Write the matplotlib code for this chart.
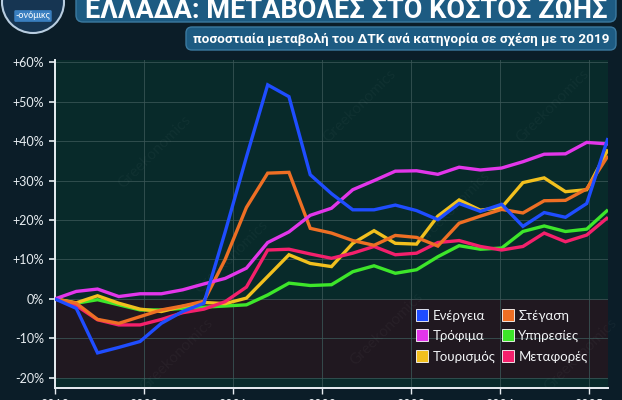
import matplotlib
matplotlib.use('Agg')
import matplotlib.pyplot as plt
from matplotlib.patches import FancyBboxPatch, Circle
from matplotlib.lines import Line2D

# ---------------- data ----------------
periods = list(range(27))
year_labels = ['2019', '2020', '2021', '2022', '2023', '2024', '2025']
year_pos = [0, 4.18, 8.37, 12.55, 16.74, 20.92, 25.1]

energy = [0, -2.4, -13.7, -12.3, -10.8, -6.2, -3.2, -1.1, 17.0, 36.0, 54.3, 51.3, 31.5,
          26.7, 22.6, 22.6, 23.8, 22.4, 20.1, 24.2, 22.2, 24.0, 18.4, 21.9, 20.7, 24.2, 40.8]
housing = [0, -1.1, -5.2, -6.2, -4.5, -2.8, -1.8, -0.6, 10.0, 23.2, 31.9, 32.1, 17.9,
           16.7, 14.8, 13.6, 16.1, 15.6, 13.4, 19.2, 21.0, 22.7, 21.8, 24.9, 25.0, 27.9, 36.3]
food = [0, 1.9, 2.5, 0.6, 1.3, 1.3, 2.3, 3.8, 5.2, 7.8, 14.3, 17.0, 21.2,
        23.0, 27.7, 30.0, 32.4, 32.5, 31.6, 33.4, 32.7, 33.2, 34.8, 36.7, 36.8, 39.7, 39.3]
services = [0, -1.1, -0.2, -1.5, -2.8, -2.8, -2.4, -2.1, -1.8, -1.5, 1.0, 4.0, 3.4,
            3.6, 6.9, 8.4, 6.5, 7.4, 10.7, 13.5, 12.6, 12.9, 17.1, 18.5, 17.1, 17.7, 22.6]
tourism = [0, -1.0, 0.8, -1.1, -2.6, -3.2, -1.9, -0.9, -1.2, 0.2, 5.7, 11.2, 9.0,
           8.2, 14.1, 17.3, 14.1, 13.9, 21.0, 25.1, 22.5, 23.2, 29.5, 30.7, 27.2, 27.7, 37.9]
transport = [0, -1.7, -5.3, -6.6, -6.6, -5.2, -3.5, -2.6, -0.7, 3.0, 12.4, 12.6, 11.4,
             10.3, 11.6, 13.3, 11.2, 11.6, 14.3, 14.8, 13.3, 12.4, 13.3, 16.7, 14.5, 16.2, 20.7]

names = ['Ενέργεια', 'Στέγαση', 'Τρόφιμα', 'Υπηρεσίες', 'Τουρισμός', 'Μεταφορές']
colors = ['#1f4dff', '#ee6f24', '#e236ea', '#3de62a', '#f2c01e', '#f4206c']
series = [energy, housing, food, services, tourism, transport]

y_ticks = [-20, -10, 0, 10, 20, 30, 40, 50, 60]

# ---------------- style ----------------
BG = '#0b1d28'
TEAL = '#082a2a'
MAROON = '#201820'
BANNER = '#1d5b82'
FONT = ['Lato', 'DejaVu Sans']
NARROW = ['Roboto', 'DejaVu Sans']

fig = plt.figure(figsize=(6.22, 4.0), dpi=100, facecolor=BG)

# overlay in pixel coordinates for header decorations
ov = fig.add_axes([0, 0, 1, 1], zorder=0)
ov.set_xlim(0, 622)
ov.set_ylim(400, 0)
ov.axis('off')
ov.patch.set_alpha(0)

ov.add_patch(FancyBboxPatch((76, -12), 540, 34, boxstyle='round,pad=0,rounding_size=7',
                            fc=BANNER, ec='#3b7aa0', lw=1))
ov.text(346, 18, 'ΕΛΛΑΔΑ: ΜΕΤΑΒΟΛΕΣ ΣΤΟ ΚΟΣΤΟΣ ΖΩΗΣ', color='white', fontsize=19.5,
        fontweight='bold', family=NARROW, ha='center', va='baseline')
ov.add_patch(FancyBboxPatch((186, 27), 430, 23, boxstyle='round,pad=0,rounding_size=6',
                            fc=BANNER, ec='#3b7aa0', lw=1))
ov.text(401, 39, 'ποσοστιαία μεταβολή του ΔΤΚ ανά κατηγορία σε σχέση με το 2019',
        color='white', fontsize=9.7, fontweight='bold', family=NARROW,
        ha='center', va='center')
ov.add_patch(Circle((33, 2), 31, fc='#163552', ec='#b8cde0', lw=1.5))
ov.text(33, 16, '-ονόμικς', color='white', fontsize=6.5, family=FONT, ha='center',
        va='center', bbox=dict(boxstyle='round,pad=0.15', fc='#3a7fc0', ec='none'))

# ---------------- main axes ----------------
ax = fig.add_axes([55 / 622, 12 / 400, 553 / 622, 328 / 400], zorder=2)
ax.set_facecolor(TEAL)
ax.axhspan(-20, 0, color=MAROON, zorder=0, lw=0)

order = [3, 4, 5, 1, 2, 0]
for rank, k in enumerate(order):
    ax.plot(periods, series[k], color=colors[k], lw=2.4, solid_joinstyle='miter',
            solid_capstyle='butt', zorder=3 + rank * 0.1)

ax.set_xlim(0, 26)
ax.set_ylim(-22.6, 60.6)
ax.set_yticks(y_ticks)
ax.set_yticklabels([('+' if v > 0 else '') + f'{v}%' for v in y_ticks])
ax.set_xticks(year_pos)
ax.set_xticklabels(year_labels)
ax.grid(True, color='#3a5757', lw=0.7, alpha=0.8, zorder=0.5)
ax.set_axisbelow(True)
for sp in ['top', 'right']:
    ax.spines[sp].set_visible(False)
for sp in ['left', 'bottom']:
    ax.spines[sp].set_color('#e8eef2')
    ax.spines[sp].set_linewidth(1.4)
ax.tick_params(axis='y', colors='#e8eef2', labelcolor='#e8eef2', length=4, width=1.2,
               pad=4, labelsize=9)
ax.tick_params(axis='x', colors='#e8eef2', labelcolor='#e8eef2', length=4, width=1.0,
               pad=4, labelsize=9)
for lab in ax.get_yticklabels() + ax.get_xticklabels():
    lab.set_family(FONT)

# watermarks
for (wx, wy) in [(0.18, 0.72), (0.55, 0.86), (0.9, 0.86), (0.32, 0.40), (0.72, 0.55),
                 (0.22, 0.10), (0.6, 0.18), (0.95, 0.1)]:
    ax.text(wx, wy, 'Greekonomics', transform=ax.transAxes, rotation=45, fontsize=11,
            color='white', alpha=0.035, ha='center', va='center', family=FONT, zorder=1)

handles = [Line2D([], [], ls='none', marker='s', markersize=9, markerfacecolor=c,
                  markeredgecolor='#ffffff', markeredgewidth=0.6) for c in colors]
leg_order = [0, 2, 4, 1, 3, 5]
leg = ax.legend([handles[i] for i in leg_order], [names[i] for i in leg_order], ncol=2,
                loc='upper left', bbox_to_anchor=(0.655, 0.238), frameon=False,
                borderpad=0, borderaxespad=0, handlelength=0.8, handletextpad=0.35,
                columnspacing=0.6, labelspacing=0.62,
                prop={'family': FONT, 'size': 9.5})
for t in leg.get_texts():
    t.set_color('#f2f4f6')
leg.set_zorder(6)

fig.savefig('out.png', dpi=100, facecolor=BG)
